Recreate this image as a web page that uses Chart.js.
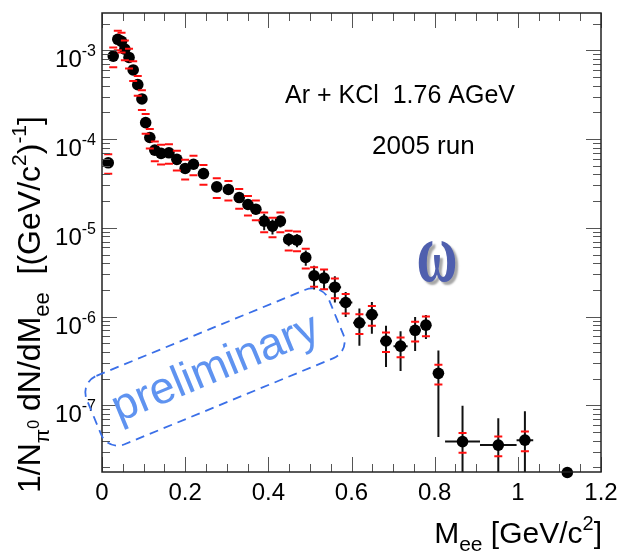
<!DOCTYPE html>
<html>
<head>
<meta charset="utf-8">
<script src="https://cdn.jsdelivr.net/npm/chart.js@4.4.1/dist/chart.umd.min.js"></script>
<style>
    html, body { margin: 0; padding: 0; background: #fff; }
    #caixa { width: 624px; height: 552px; }
</style>
</head>
<body>
<div id="caixa"><canvas id="grafico" width="624" height="552"></canvas></div>
<script>

// massa invariante (GeV/c2)
const massa = [0.015, 0.027, 0.038, 0.047, 0.055, 0.065, 0.075, 0.086, 0.096, 0.105,
    0.115, 0.127, 0.142, 0.161, 0.180, 0.200, 0.220, 0.244, 0.276, 0.304,
    0.330, 0.351, 0.370, 0.390, 0.410, 0.429, 0.449, 0.469, 0.490, 0.510,
    0.534, 0.560, 0.586, 0.619, 0.649, 0.683, 0.718, 0.753, 0.779, 0.809,
    0.867, 0.953, 1.017, 1.119];

// meia largura do bin
const meiaLargura = [0.005, 0.005, 0.005, 0.005, 0.005, 0.005, 0.005, 0.005, 0.005, 0.005,
    0.006, 0.007, 0.008, 0.008, 0.008, 0.008, 0.010, 0.010, 0.010, 0.010,
    0.010, 0.010, 0.010, 0.010, 0.010, 0.010, 0.010, 0.010, 0.010, 0.012,
    0.013, 0.015, 0.016, 0.015, 0.015, 0.014, 0.017, 0.013, 0.012, 0.010,
    0.042, 0.044, 0.020, 0];

// 1/N dN/dMee
const rendimento = [5.4e-5, 8.6e-4, 1.33e-3, 1.26e-3, 1.03e-3, 8.3e-4, 6.0e-4, 4.1e-4, 2.83e-4, 1.53e-4,
    1.04e-4, 7.5e-5, 6.9e-5, 7.0e-5, 5.9e-5, 4.66e-5, 5.2e-5, 4.08e-5, 2.89e-5, 2.70e-5,
    2.19e-5, 1.83e-5, 1.62e-5, 1.19e-5, 1.04e-5, 1.19e-5, 7.4e-6, 7.25e-6, 4.63e-6, 2.88e-6,
    2.71e-6, 2.14e-6, 1.44e-6, 8.5e-7, 1.05e-6, 5.3e-7, 4.64e-7, 7.0e-7, 8.0e-7, 2.29e-7,
    3.9e-8, 3.56e-8, 4.05e-8, 1.75e-8];

// erro estatistico
const erroEstat = [4e-6, 3e-5, 4e-5, 4e-5, 3e-5, 3e-5, 2e-5, 1.5e-5, 1e-5, 6e-6,
    5e-6, 4e-6, 4e-6, 4e-6, 4e-6, 4e-6, 4e-6, 3e-6, 3e-6, 3e-6,
    2.5e-6, 2e-6, 2e-6, 2.5e-6, 2e-6, 1.8e-6, 1.2e-6, 1.2e-6, 9e-7, 8.6e-7,
    7.2e-7, 7e-7, 4.5e-7, 3.8e-7, 4.1e-7, 2.6e-7, 2.2e-7, 2.9e-7, 2.4e-7, 1.85e-7,
    6.0e-8, 3.6e-8, 4.5e-8, null];

// erro sistematico relativo
const erroSist = 0.25;

const ticksX = [0, 0.2, 0.4, 0.6, 0.8, 1, 1.2];
const rotulosX = ['0', '0.2', '0.4', '0.6', '0.8', '1', '1.2'];
const expoentesY = [-3, -4, -5, -6, -7];

document.addEventListener('DOMContentLoaded', function () {

    const contexto = document.getElementById('grafico').getContext('2d');

    const fonte = '"Liberation Sans", Arial, sans-serif';

    const pontos = massa.map((m, i) => ({ x: m, y: rendimento[i] }));

    // escreve uma sequencia de pedacos de texto (indices e expoentes)
    function larguraRica(ctx, partes) {
        let w = 0;
        partes.forEach(p => {
            ctx.font = p.tam + 'px ' + fonte;
            w += ctx.measureText(p.t).width;
        });
        return w;
    }

    function textoRico(ctx, partes, x, y) {
        let cx = x;
        partes.forEach(p => {
            ctx.font = p.tam + 'px ' + fonte;
            ctx.fillText(p.t, cx, y + (p.dy || 0));
            cx += ctx.measureText(p.t).width;
        });
    }

    const barrasErro = {

        id: 'barrasErro',

        beforeDatasetsDraw(chart) {
            const { ctx, chartArea: area, scales: { x, y } } = chart;

            ctx.save();
            ctx.beginPath();
            ctx.rect(area.left, area.top, area.width, area.height);
            ctx.clip();

            ctx.strokeStyle = '#111';
            ctx.lineWidth = 2;

            massa.forEach((m, i) => {
                if (erroEstat[i] === null) return;

                const px = x.getPixelForValue(m);
                const py = y.getPixelForValue(rendimento[i]);

                const baixo = rendimento[i] - erroEstat[i];
                const yBaixo = baixo > 0 ? y.getPixelForValue(baixo) : area.bottom + 2;
                const yCima = y.getPixelForValue(rendimento[i] + erroEstat[i]);

                ctx.beginPath();
                ctx.moveTo(px, yCima);
                ctx.lineTo(px, yBaixo);
                ctx.moveTo(x.getPixelForValue(m - meiaLargura[i]), py);
                ctx.lineTo(x.getPixelForValue(m + meiaLargura[i]), py);
                ctx.stroke();
            });

            ctx.restore();
        },

        afterDatasetsDraw(chart) {
            const { ctx, scales: { x, y } } = chart;

            ctx.save();
            ctx.strokeStyle = '#ff1010';
            ctx.lineWidth = 2;

            massa.forEach((m, i) => {
                if (erroEstat[i] === null) return;

                const px = x.getPixelForValue(m);
                const yCima = y.getPixelForValue(rendimento[i] * (1 + erroSist));
                const yBaixo = y.getPixelForValue(rendimento[i] * (1 - erroSist));

                ctx.beginPath();
                ctx.moveTo(px - 4, yCima);
                ctx.lineTo(px + 4, yCima);
                ctx.moveTo(px - 4, yBaixo);
                ctx.lineTo(px + 4, yBaixo);
                ctx.stroke();
            });

            ctx.restore();
        }

    };

    const moldura = {

        id: 'moldura',

        afterDraw(chart) {
            const { ctx, chartArea: area, scales: { x, y } } = chart;

            ctx.save();

            // marcas do eixo x (em baixo e em cima, para dentro)
            ctx.strokeStyle = '#555';
            ctx.lineWidth = 1;
            ctx.beginPath();
            for (let i = 0; i <= 24; i++) {
                const px = Math.round(x.getPixelForValue(i * 0.05)) + 0.5;
                const len = i % 4 === 0 ? 15 : 8;
                ctx.moveTo(px, area.bottom);
                ctx.lineTo(px, area.bottom - len);
                ctx.moveTo(px, area.top);
                ctx.lineTo(px, area.top + len);
            }

            // marcas do eixo y logaritmico
            for (let d = -8; d <= -3; d++) {
                for (let k = 1; k <= 9; k++) {
                    const v = k * Math.pow(10, d);
                    if (v < y.min || v > y.max) continue;
                    const py = Math.round(y.getPixelForValue(v)) + 0.5;
                    const len = k === 1 ? 15 : 8;
                    ctx.moveTo(area.left, py);
                    ctx.lineTo(area.left + len, py);
                    ctx.moveTo(area.right, py);
                    ctx.lineTo(area.right - len, py);
                }
            }
            ctx.stroke();

            // moldura
            ctx.strokeStyle = '#222';
            ctx.lineWidth = 1.5;
            ctx.strokeRect(area.left, area.top, area.width, area.height);

            // rotulos x
            ctx.fillStyle = '#000';
            ctx.textAlign = 'center';
            ctx.textBaseline = 'alphabetic';
            ctx.font = '24px ' + fonte;
            ticksX.forEach((v, i) => {
                ctx.fillText(rotulosX[i], x.getPixelForValue(v), 500);
            });

            // rotulos y: 10^n
            ctx.textAlign = 'left';
            expoentesY.forEach(n => {
                const py = y.getPixelForValue(Math.pow(10, n));
                const partes = [
                    { t: '10', tam: 24 },
                    { t: '-' + Math.abs(n), tam: 16, dy: -11 }
                ];
                const w = larguraRica(ctx, partes);
                textoRico(ctx, partes, 96 - w, py + 17);
            });

            // titulo do eixo x
            const tituloX = [
                { t: 'M', tam: 30 },
                { t: 'ee', tam: 21, dy: 8 },
                { t: ' [GeV/c', tam: 30 },
                { t: '2', tam: 20, dy: -13 },
                { t: ']', tam: 30 }
            ];
            textoRico(ctx, tituloX, 602 - larguraRica(ctx, tituloX), 543);

            // titulo do eixo y (rodado)
            const tituloY = [
                { t: '1/N', tam: 32 },
                { t: '\u03c0', tam: 21, dy: 9 },
                { t: '0', tam: 16, dy: -1 },
                { t: ' dN/dM', tam: 32 },
                { t: 'ee', tam: 22, dy: 9 },
                { t: '  [(GeV/c', tam: 32 },
                { t: '2', tam: 21, dy: -14 },
                { t: ')', tam: 32 },
                { t: '-1', tam: 21, dy: -14 },
                { t: ']', tam: 32 }
            ];
            ctx.save();
            ctx.translate(40, 493);
            ctx.rotate(-Math.PI / 2);
            textoRico(ctx, tituloY, 0, 0);
            ctx.restore();

            // legenda da medida
            ctx.font = '25px ' + fonte;
            ctx.fillText('Ar + KCl  1.76 AGeV', 285, 103);
            ctx.font = '26px ' + fonte;
            ctx.fillText('2005 run', 372, 154);

            // omega (esticado na vertical)
            ctx.save();
            ctx.translate(437, 281);
            ctx.scale(1, 1.5);
            ctx.font = 'bold 56px "Liberation Serif", serif';
            ctx.textAlign = 'center';
            ctx.shadowColor = 'rgba(0, 0, 0, 0.35)';
            ctx.shadowOffsetX = 3;
            ctx.shadowOffsetY = 3;
            ctx.shadowBlur = 2;
            ctx.fillStyle = '#4f5fae';
            ctx.fillText('\u03c9', 0, 0);
            ctx.restore();

            // caixa "preliminary"
            ctx.save();
            ctx.translate(215, 367);
            ctx.rotate(-22.4 * Math.PI / 180);
            ctx.strokeStyle = '#3a6fe8';
            ctx.lineWidth = 1.8;
            ctx.setLineDash([9, 6]);
            ctx.beginPath();
            ctx.roundRect(-131, -37, 262, 74, 18);
            ctx.stroke();
            ctx.setLineDash([]);
            ctx.fillStyle = '#5f93f0';
            ctx.font = '45px ' + fonte;
            ctx.textAlign = 'center';
            ctx.textBaseline = 'middle';
            ctx.fillText('preliminary', 0, 2);
            ctx.restore();

            ctx.restore();
        }

    };

    new Chart(contexto, {

        type: 'scatter',

        data: {
            datasets: [{
                data: pontos,
                pointRadius: 5.8,
                pointHoverRadius: 5.8,
                pointBorderWidth: 0,
                pointBackgroundColor: '#000',
                pointBorderColor: '#000',
                clip: false
            }]
        },

        options: {
            responsive: false,
            animation: false,
            layout: {
                padding: { left: 102, right: 23, top: 13, bottom: 80 }
            },
            plugins: {
                legend: { display: false },
                tooltip: { enabled: false }
            },
            scales: {
                x: { type: 'linear', min: 0, max: 1.2, display: false },
                y: { type: 'logarithmic', min: 1.772e-8, max: 2.63e-3, display: false }
            }
        },

        plugins: [barrasErro, moldura]

    });

});
</script>
</body>
</html>
